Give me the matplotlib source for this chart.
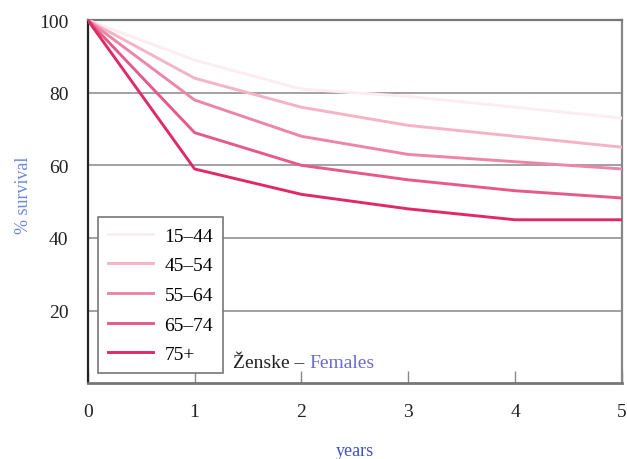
import matplotlib.pyplot as plt

years = [0, 1, 2, 3, 4, 5]
age_groups = ["15\u201344", "45\u201354", "55\u201364", "65\u201374", "75+"]
surv_15_44 = [100, 89, 81, 79, 76, 73]
surv_45_54 = [100, 84, 76, 71, 68, 65]
surv_55_64 = [100, 78, 68, 63, 61, 59]
surv_65_74 = [100, 69, 60, 56, 53, 51]
surv_75 = [100, 59, 52, 48, 45, 45]
y_ticks = [20, 40, 60, 80, 100]

series = [surv_15_44, surv_45_54, surv_55_64, surv_65_74, surv_75]
colors = ["#fcedf1", "#f5b3c6", "#ec86a6", "#e65a88", "#e02a66"]

plt.rcParams["font.family"] = ["Liberation Serif", "DejaVu Serif"]

fig = plt.figure(figsize=(6.27, 4.60), dpi=100)
ax = fig.add_axes([0.140, 0.165, 0.852, 0.789])

# Survival curves
for values, label, color in zip(series, age_groups, colors):
    ax.plot(years, values, color=color, lw=2.1, label=label, zorder=3)

# Axes configuration
ax.set_xlim(0, 5)
ax.set_ylim(0, 100)
ax.set_xticks(years)
ax.set_yticks(y_ticks)
ax.yaxis.grid(True, color="#9a9a9a", lw=1.3, zorder=1)
ax.tick_params(axis="x", direction="in", length=9, width=1, color="#888888",
               pad=14, labelsize=14, labelcolor="#222222")
ax.tick_params(axis="y", length=0, pad=14, labelsize=14, labelcolor="#222222")
ax.spines["left"].set_color("#222222")
ax.spines["left"].set_linewidth(1.6)
ax.spines["bottom"].set_color("#777777")
ax.spines["bottom"].set_linewidth(2)
ax.spines["top"].set_color("#777777")
ax.spines["top"].set_linewidth(1.6)
ax.spines["right"].set_color("#888888")
ax.spines["right"].set_linewidth(1.6)

ax.set_ylabel("% survival", color="#6f86e0", fontsize=13)
ax.yaxis.set_label_coords(-0.105, 0.52)
ax.set_xlabel("years", color="#3c50c8", fontsize=13, labelpad=16)

leg = ax.legend(loc="lower left", bbox_to_anchor=(0.02, 0.028), fontsize=14,
                handlelength=2.3, handletextpad=0.6, labelspacing=0.62,
                borderpad=0.5, borderaxespad=0, fancybox=False, framealpha=1,
                edgecolor="#777777")
leg.get_frame().set_linewidth(1.2)

# Bilingual caption, English part in blue
t1 = ax.text(0.272, 0.033, "\u017denske \u2013 ", transform=ax.transAxes,
             fontsize=14, color="#222222", ha="left", va="bottom")
fig.canvas.draw()
bb = t1.get_window_extent().transformed(ax.transAxes.inverted())
ax.text(bb.x1, 0.033, "Females", transform=ax.transAxes,
        fontsize=14, color="#6a6ad8", ha="left", va="bottom")

fig.savefig("out.png", dpi=100)
